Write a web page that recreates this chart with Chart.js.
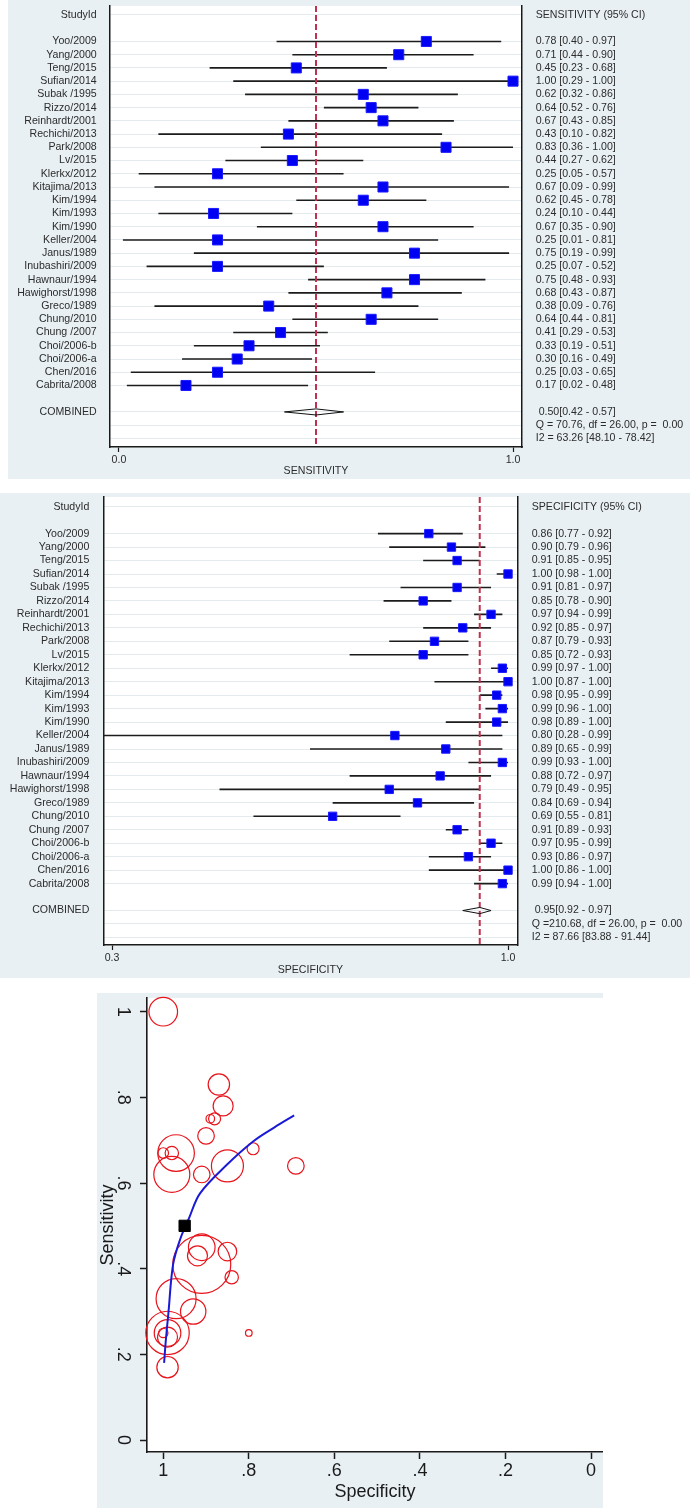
<!DOCTYPE html>
<html lang="en">
<head>
<meta charset="utf-8">
<title>Sensitivity / specificity forest plots and SROC</title>
<script src="https://cdn.jsdelivr.net/npm/chart.js@4.4.1/dist/chart.umd.min.js"></script>
<style>
  html, body { margin: 0; padding: 0; background: #ffffff; }
  body { position: relative; width: 690px; height: 1508px; overflow: hidden; }
  canvas { position: absolute; display: block; background: #e8f0f3; }
  #sens { left: 8px; top: 0; }
  #spec { left: 0; top: 493px; }
  #sroc { left: 97px; top: 993px; }
</style>
</head>
<body>
<canvas id="sens" width="682" height="479"></canvas>
<canvas id="spec" width="690" height="485"></canvas>
<canvas id="sroc" width="506" height="515"></canvas>
<script>
const studies = ['Yoo/2009', 'Yang/2000', 'Teng/2015', 'Sufian/2014', 'Subak /1995', 'Rizzo/2014', 'Reinhardt/2001',
  'Rechichi/2013', 'Park/2008', 'Lv/2015', 'Klerkx/2012', 'Kitajima/2013', 'Kim/1994', 'Kim/1993', 'Kim/1990',
  'Keller/2004', 'Janus/1989', 'Inubashiri/2009', 'Hawnaur/1994', 'Hawighorst/1998', 'Greco/1989', 'Chung/2010',
  'Chung /2007', 'Choi/2006-b', 'Choi/2006-a', 'Chen/2016', 'Cabrita/2008'];

const sensEst = [0.78, 0.71, 0.45, 1.00, 0.62, 0.64, 0.67, 0.43, 0.83, 0.44, 0.25, 0.67, 0.62, 0.24, 0.67, 0.25, 0.75, 0.25, 0.75, 0.68, 0.38, 0.64, 0.41, 0.33, 0.30, 0.25, 0.17];
const sensLow = [0.40, 0.44, 0.23, 0.29, 0.32, 0.52, 0.43, 0.10, 0.36, 0.27, 0.05, 0.09, 0.45, 0.10, 0.35, 0.01, 0.19, 0.07, 0.48, 0.43, 0.09, 0.44, 0.29, 0.19, 0.16, 0.03, 0.02];
const sensHigh = [0.97, 0.90, 0.68, 1.00, 0.86, 0.76, 0.85, 0.82, 1.00, 0.62, 0.57, 0.99, 0.78, 0.44, 0.90, 0.81, 0.99, 0.52, 0.93, 0.87, 0.76, 0.81, 0.53, 0.51, 0.49, 0.65, 0.48];

const specEst = [0.86, 0.90, 0.91, 1.00, 0.91, 0.85, 0.97, 0.92, 0.87, 0.85, 0.99, 1.00, 0.98, 0.99, 0.98, 0.80, 0.89, 0.99, 0.88, 0.79, 0.84, 0.69, 0.91, 0.97, 0.93, 1.00, 0.99];
const specLow = [0.77, 0.79, 0.85, 0.98, 0.81, 0.78, 0.94, 0.85, 0.79, 0.72, 0.97, 0.87, 0.95, 0.96, 0.89, 0.28, 0.65, 0.93, 0.72, 0.49, 0.69, 0.55, 0.89, 0.95, 0.86, 0.86, 0.94];
const specHigh = [0.92, 0.96, 0.95, 1.00, 0.97, 0.90, 0.99, 0.97, 0.93, 0.93, 1.00, 1.00, 0.99, 1.00, 1.00, 0.99, 0.99, 1.00, 0.97, 0.95, 0.94, 0.81, 0.93, 0.99, 0.97, 1.00, 1.00];

// pooled estimate, lower, upper
const sensPooled = [0.50, 0.42, 0.57];
const specPooled = [0.95, 0.92, 0.97];
const sensHeterogeneity = ['Q = 70.76, df = 26.00, p =  0.00', 'I2 = 63.26 [48.10 - 78.42]'];
const specHeterogeneity = ['Q =210.68, df = 26.00, p =  0.00', 'I2 = 87.66 [83.88 - 91.44]'];

const sensTicks = [0, 1];
const specTicks = [0.3, 1];

// study weight shown as bubble radius on the SROC plot
const srocStudyWeight = [10, 8.3, 13.3, 14.3, 8.3, 16, 18.3, 10, 10.7, 9.3, 21.7, 5.3, 18, 10, 6.7, 3.3, 4.3, 13.3, 6, 6, 6.7, 8.3, 29, 20, 12.7, 4.7, 10.7];
const srocCurveSpec = [0.998, 0.994, 0.988, 0.977, 0.960, 0.939, 0.914, 0.852, 0.790, 0.740, 0.694];
const srocCurveSens = [0.180, 0.233, 0.296, 0.410, 0.470, 0.520, 0.576, 0.642, 0.697, 0.730, 0.758];
const srocTicks = [0, 0.2, 0.4, 0.6, 0.8, 1];

const FONT = "'Liberation Sans', Arial, Helvetica, sans-serif";
const TEXT = '#2c2c2c';
const AXIS = '#1a1a1a';
Chart.defaults.font.family = FONT;

const plotBackground = {
  id: 'plotBackground',
  beforeDraw (chart) {
    const { ctx, chartArea } = chart;
    ctx.save();
    ctx.fillStyle = '#ffffff';
    ctx.fillRect(chartArea.left, chartArea.top, chartArea.right - chartArea.left, chartArea.bottom - chartArea.top);
    ctx.restore();
  }
};

function fmt (v) {
  return v.toFixed(2);
}

// fix an axis box size and drop the label overhang padding chart.js adds
function fixBox (size) {
  return scale => {
    if (scale.isHorizontal()) {
      scale.height = size;
    } else {
      scale.width = size;
    }
    scale.paddingTop = 0;
    scale.paddingBottom = 0;
    scale.paddingLeft = 0;
    scale.paddingRight = 0;
  };
}

function forestChart (id, { est, low, high, pooled, stats, heading, axisTitle, ticks, xRange, yRange, box, squareRadius }) {
  const firstRow = 2;
  const combinedRow = firstRow + est.length + 1;
  const lastRow = combinedRow + stats.length;
  const rows = [];
  const left = [];
  const right = [];
  for (let r = 0; r <= lastRow; r++) {
    rows.push(r);
    left.push('');
    right.push('');
  }
  left[0] = 'StudyId';
  right[0] = heading;
  studies.forEach((name, i) => {
    left[firstRow + i] = name;
    right[firstRow + i] = `${fmt(est[i])} [${fmt(low[i])} - ${fmt(high[i])}]`;
  });
  left[combinedRow] = 'COMBINED';
  right[combinedRow] = ` ${fmt(pooled[0])}[${fmt(pooled[1])} - ${fmt(pooled[2])}]`;
  stats.forEach((s, i) => { right[combinedRow + 1 + i] = s; });
  const blankRows = [1, combinedRow - 1];

  const squares = est.map((v, i) => ({ x: v, y: firstRow + i }));
  const whiskers = [];
  est.forEach((v, i) => {
    whiskers.push({ x: low[i], y: firstRow + i }, { x: high[i], y: firstRow + i }, { x: null, y: null });
  });
  const half = 0.23;
  const diamond = [
    { x: pooled[1], y: combinedRow },
    { x: pooled[0], y: combinedRow - half },
    { x: pooled[2], y: combinedRow },
    { x: pooled[0], y: combinedRow + half },
    { x: pooled[1], y: combinedRow }
  ];
  const refLine = [{ x: pooled[0], y: yRange[0] }, { x: pooled[0], y: yRange[1] }];

  const font = { family: FONT, size: 10.6 };
  const rowTicks = scale => { scale.ticks = rows.map(value => ({ value })); };

  return new Chart(id, {
    type: 'scatter',
    data: {
      datasets: [
        { data: squares, pointStyle: 'rect', pointRadius: squareRadius, backgroundColor: '#0000f2', borderColor: '#1a1aff', borderWidth: 1 },
        { data: diamond, showLine: true, pointRadius: 0, borderColor: '#111111', borderWidth: 1, tension: 0 },
        { data: refLine, showLine: true, pointRadius: 0, borderColor: '#c0304f', borderWidth: 2, borderDash: [6, 3] },
        { data: whiskers, showLine: true, pointRadius: 0, borderColor: '#1c1c1c', borderWidth: 1.6, spanGaps: false }
      ]
    },
    options: {
      responsive: false,
      animation: false,
      devicePixelRatio: 1,
      events: [],
      layout: { autoPadding: false, padding: { top: box.top, right: 0, bottom: 0, left: 0 } },
      plugins: { legend: { display: false }, tooltip: { enabled: false } },
      scales: {
        x: {
          type: 'linear',
          min: xRange[0],
          max: xRange[1],
          afterBuildTicks: scale => { scale.ticks = ticks.map(value => ({ value })); },
          afterFit: fixBox(box.bottom),
          ticks: { callback: v => v.toFixed(1), font, color: TEXT, padding: box.tickPad, maxRotation: 0, autoSkip: false },
          grid: { drawOnChartArea: false, drawTicks: true, tickLength: 5, tickColor: AXIS, tickWidth: 1.2 },
          border: { color: AXIS, width: 1.5 },
          title: { display: true, text: axisTitle, font, color: TEXT, padding: { top: 0, bottom: box.titlePad } }
        },
        y: {
          type: 'linear',
          reverse: true,
          min: yRange[0],
          max: yRange[1],
          afterBuildTicks: rowTicks,
          afterFit: fixBox(box.left),
          ticks: { callback: v => left[v], font, color: TEXT, padding: box.leftPad, autoSkip: false },
          grid: {
            drawTicks: false,
            lineWidth: 1,
            color: ctx => (ctx.tick && blankRows.includes(ctx.tick.value)) ? 'rgba(0,0,0,0)' : '#e3ebef'
          },
          border: { color: AXIS, width: 1.5 }
        },
        y2: {
          type: 'linear',
          position: 'right',
          reverse: true,
          min: yRange[0],
          max: yRange[1],
          afterBuildTicks: rowTicks,
          afterFit: fixBox(box.right),
          ticks: { callback: v => right[v], font, color: TEXT, padding: box.rightPad, autoSkip: false },
          grid: { display: false, drawTicks: false },
          border: { color: AXIS, width: 1.5 }
        }
      }
    },
    plugins: [plotBackground]
  });
}

forestChart('sens', {
  est: sensEst,
  low: sensLow,
  high: sensHigh,
  pooled: sensPooled,
  stats: sensHeterogeneity,
  heading: 'SENSITIVITY (95% CI)',
  axisTitle: 'SENSITIVITY',
  ticks: sensTicks,
  xRange: [-0.0228, 1.0228],
  yRange: [-0.68, 32.65],
  box: { top: 6, left: 102, right: 168, bottom: 32, leftPad: 13.3, rightPad: 13.7, tickPad: 1.6, titlePad: 1.6 },
  squareRadius: 7.1
});

forestChart('spec', {
  est: specEst,
  low: specLow,
  high: specHigh,
  pooled: specPooled,
  stats: specHeterogeneity,
  heading: 'SPECIFICITY (95% CI)',
  axisTitle: 'SPECIFICITY',
  ticks: specTicks,
  xRange: [0.2846, 1.0164],
  yRange: [-0.72, 32.56],
  box: { top: 4, left: 103.3, right: 172.7, bottom: 33, leftPad: 14, rightPad: 14.4, tickPad: 1.3, titlePad: 1.6 },
  squareRadius: 5.9
});

const srocLabel = v => String(v).replace(/^0\./, '.');
const bigFont = { family: FONT, size: 18 };

// eslint-disable-next-line no-undef
const srocChart = new Chart('sroc', {
  type: 'bubble',
  data: {
    datasets: [
      {
        type: 'scatter',
        data: [{ x: specPooled[0], y: sensPooled[0] }],
        pointStyle: 'rect',
        pointRadius: 8,
        backgroundColor: '#000000',
        borderColor: '#000000',
        borderWidth: 1
      },
      {
        type: 'scatter',
        data: srocCurveSpec.map((x, i) => ({ x, y: srocCurveSens[i] })),
        showLine: true,
        pointRadius: 0,
        borderColor: '#1a1ad6',
        borderWidth: 2,
        tension: 0.35
      },
      {
        type: 'bubble',
        data: specEst.map((x, i) => ({ x, y: sensEst[i], r: srocStudyWeight[i] })),
        backgroundColor: 'rgba(0,0,0,0)',
        borderColor: '#e8141c',
        borderWidth: 1.2,
        clip: false
      }
    ]
  },
  options: {
    responsive: false,
    animation: false,
    devicePixelRatio: 1,
    events: [],
    layout: { autoPadding: false, padding: { top: 5, right: 0, bottom: 0, left: 0 } },
    plugins: { legend: { display: false }, tooltip: { enabled: false } },
    scales: {
      x: {
        type: 'linear',
        reverse: true,
        min: -0.028,
        max: 1.038,
        afterBuildTicks: scale => { scale.ticks = srocTicks.map(value => ({ value })); },
        afterFit: fixBox(56),
        ticks: { callback: srocLabel, font: bigFont, color: '#1a1a1a', padding: 1.2, maxRotation: 0, autoSkip: false },
        grid: { drawOnChartArea: false, tickLength: 7, tickColor: AXIS, tickWidth: 1.5 },
        border: { color: AXIS, width: 1.6 },
        title: { display: true, text: 'Specificity', font: bigFont, color: '#1a1a1a', padding: { top: 0, bottom: 5.5 } }
      },
      y: {
        type: 'linear',
        min: -0.028,
        max: 1.032,
        afterBuildTicks: scale => { scale.ticks = srocTicks.map(value => ({ value })); },
        afterFit: fixBox(50),
        ticks: { callback: srocLabel, font: bigFont, color: '#1a1a1a', padding: 9.5, minRotation: -90, maxRotation: -90, crossAlign: 'center', autoSkip: false },
        grid: { drawOnChartArea: false, tickLength: 7, tickColor: AXIS, tickWidth: 1.5 },
        border: { color: AXIS, width: 1.6 },
        title: { display: true, text: 'Sensitivity', font: bigFont, color: '#1a1a1a', padding: { top: 0, bottom: 0 } }
      }
    }
  },
  plugins: [plotBackground]
});
</script>
</body>
</html>
